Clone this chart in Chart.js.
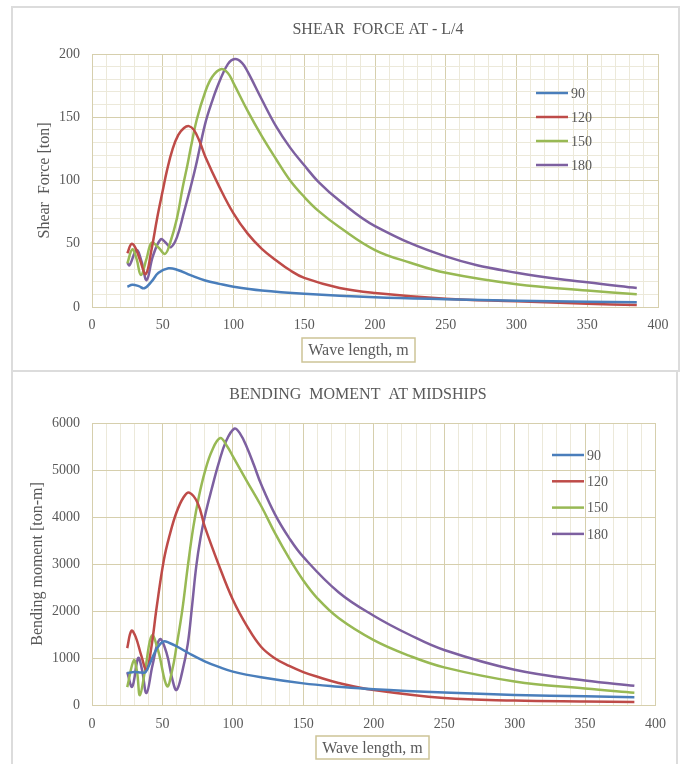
<!DOCTYPE html>
<html>
<head>
<meta charset="utf-8">
<script src="https://cdn.jsdelivr.net/npm/chart.js@4.4.1/dist/chart.umd.min.js"></script>
<style>
  body { margin: 0; background: #fff; }
  .frame { position: absolute; border: 2px solid #dcdcdc; box-sizing: border-box; }
  canvas { position: absolute; }
</style>
</head>
<body>
<div class="frame" style="left:11px; top:6px; width:669px; height:366px;"></div>
<div class="frame" style="left:11px; top:370px; width:667px; height:400px;"></div>
<div style="position:absolute; left:12px; top:7px; width:667px; height:364px;"><canvas id="shearChart"></canvas></div>
<div style="position:absolute; left:12px; top:371px; width:665px; height:393px;"><canvas id="momentChart"></canvas></div>
<script>
// series names (ship speed / heading cases)
const seriesNames = ['90', '120', '150', '180'];
const seriesColors = ['#4a7ebb', '#be4b48', '#98b954', '#7d60a0'];

// Shear force at L/4 [ton] vs wave length [m]
const sf90X = [25, 28.5, 33, 37, 42, 47, 54, 60, 70, 80, 90, 100, 120, 150, 200, 250, 300, 350, 385];
const sf90Y = [16, 17.5, 16.5, 14.8, 20, 27, 30.6, 29.5, 25, 21, 18.3, 16, 13, 10.5, 7.8, 6.2, 5, 4.2, 3.8];

const sf120X = [25, 28, 31, 34, 38, 42, 46, 50, 53, 57, 61, 65, 68.5, 72, 76, 80, 90, 100, 110, 120, 130, 140, 150, 175, 200, 250, 300, 350, 385];
const sf120Y = [42.5, 50, 46, 37, 26, 45, 70, 92, 108, 125, 136, 141.5, 143, 140, 131, 119, 95, 74, 58, 46, 37, 29, 23, 15, 11, 6.5, 4.5, 2.5, 1.5];

const sf150X = [25, 28.5, 31.5, 34.6, 38.5, 42.2, 47, 51.6, 55, 60, 64, 67.4, 70, 74, 80, 85, 91, 96, 100, 110, 120, 130, 140, 150, 160, 175, 200, 225, 250, 300, 350, 385];
const sf150Y = [34.5, 45.6, 38, 25.3, 38, 50.8, 47, 42, 50, 70, 94, 112, 127, 148, 170, 182, 188, 185, 177, 155, 135, 117, 100, 87, 76, 63, 45, 35, 27, 18, 13, 10];

const sf180X = [25, 26.5, 31.5, 35, 38.6, 43, 48.5, 52, 55.6, 60, 65, 70, 73.5, 80, 85, 90, 96, 101, 106, 110, 120, 130, 140, 150, 160, 175, 200, 250, 300, 350, 385];
const sf180Y = [35, 33, 45, 36, 21.3, 40, 53.5, 51, 47.2, 55, 75, 96, 112, 145, 163, 178, 192, 196, 193, 186, 164, 143, 126, 112, 99, 84, 64, 40, 27, 19.5, 15];

// Bending moment at midships [ton-m] vs wave length [m]
const bm90X = [25, 30, 35, 38, 42, 46, 50.5, 55, 60, 70, 80, 90, 100, 120, 150, 175, 200, 250, 300, 350, 385];
const bm90Y = [680, 700, 690, 700, 950, 1200, 1350, 1320, 1250, 1080, 930, 810, 710, 590, 460, 390, 335, 265, 215, 185, 165];

const bm120X = [25, 28, 31, 35, 38.7, 42, 46, 51, 55, 60, 65, 69, 75, 80, 90, 100, 110, 120, 130, 140, 150, 160, 175, 200, 250, 300, 350, 385];
const bm120Y = [1210, 1580, 1450, 1050, 745, 1200, 2100, 3085, 3600, 4100, 4420, 4520, 4300, 3800, 2980, 2240, 1680, 1240, 990, 830, 700, 600, 470, 320, 150, 95, 75, 65];

const bm150X = [25, 29.7, 32, 34, 38, 42.5, 47, 53.3, 57, 60, 64, 68, 72, 76, 80, 85, 91, 96, 100, 110, 120, 130, 140, 150, 160, 175, 200, 225, 250, 300, 350, 385];
const bm150Y = [380, 950, 700, 210, 800, 1480, 1150, 400, 750, 1250, 2000, 2950, 3800, 4450, 4950, 5400, 5680, 5500, 5290, 4760, 4240, 3650, 3120, 2650, 2270, 1850, 1380, 1050, 800, 500, 350, 260];

const bm180X = [25, 28.5, 32.8, 35.5, 38.7, 43, 48.1, 53, 57, 60, 64, 68, 71, 74, 77, 80, 85, 90, 95, 101, 105, 110, 115, 120, 130, 140, 150, 175, 200, 225, 250, 300, 350, 385];
const bm180Y = [700, 390, 1000, 750, 255, 850, 1400, 1100, 550, 320, 700, 1300, 2100, 2950, 3550, 4000, 4600, 5150, 5600, 5880, 5780, 5480, 5100, 4700, 4050, 3550, 3150, 2400, 1900, 1500, 1170, 750, 520, 410];

const MAJOR = '#d6cfad';
const MINOR = '#ece9da';
const TEXT = '#595959';
const SERIF = '"Liberation Serif", "Times New Roman", serif';

function pairs(xs, ys) {
    return xs.map((x, i) => ({ x: x, y: ys[i] }));
}

function makeSets(list) {
    return list.map((s, i) => ({
        label: seriesNames[i],
        data: pairs(s[0], s[1]),
        borderColor: seriesColors[i],
        backgroundColor: seriesColors[i],
        borderWidth: 2.5,
        pointRadius: 0,
        tension: 0.4,
        fill: false
    }));
}

// title, x-axis title box and in-plot legend like the Excel original
const decor = {
    id: 'decor',
    afterDraw(chart, args, o) {
        const ctx = chart.ctx;
        ctx.save();
        ctx.fillStyle = TEXT;
        ctx.textBaseline = 'middle';
        ctx.textAlign = 'center';
        ctx.font = '16px ' + SERIF;
        ctx.fillText(o.title, o.titleX, o.titleY);

        const b = o.box;
        ctx.strokeStyle = '#cdc497';
        ctx.lineWidth = 1.5;
        ctx.strokeRect(b[0], b[1], b[2], b[3]);
        ctx.fillText(o.xTitle, b[0] + b[2] / 2, b[1] + b[3] / 2 + 1);

        ctx.font = '14px ' + SERIF;
        ctx.textAlign = 'left';
        chart.data.datasets.forEach((ds, i) => {
            const y = o.legY + i * o.legStep;
            ctx.strokeStyle = ds.borderColor;
            ctx.lineWidth = 2.5;
            ctx.beginPath();
            ctx.moveTo(o.legX, y);
            ctx.lineTo(o.legX + 32, y);
            ctx.stroke();
            ctx.fillText(ds.label, o.legX + 35, y + 1);
        });
        ctx.restore();
    }
};

function baseOptions(cfg) {
    return {
        responsive: true,
        maintainAspectRatio: false,
        animation: false,
        layout: { padding: { top: cfg.top, right: cfg.right, bottom: 0, left: 0 } },
        plugins: {
            legend: { display: false },
            title: { display: false },
            tooltip: { enabled: false },
            decor: cfg.decor
        },
        scales: {
            x: {
                type: 'linear',
                min: 0,
                max: 400,
                afterFit: (s) => { s.height = cfg.bottom; },
                ticks: {
                    stepSize: 10,
                    autoSkip: false,
                    maxRotation: 0,
                    minRotation: 0,
                    padding: cfg.xPad,
                    color: TEXT,
                    font: { family: SERIF, size: 14 },
                    callback: (v) => (v % 50 === 0 ? v : '')
                },
                grid: {
                    drawTicks: false,
                    color: (c) => (c.tick && c.tick.value % 50 === 0 ? MAJOR : MINOR)
                },
                border: { color: MAJOR }
            },
            y: {
                min: 0,
                max: cfg.yMax,
                afterFit: (s) => { s.width = 80; },
                ticks: {
                    stepSize: cfg.yStep,
                    autoSkip: false,
                    padding: 12,
                    color: TEXT,
                    font: { family: SERIF, size: 14 },
                    callback: (v) => (v % cfg.yLabelStep === 0 ? v : '')
                },
                grid: {
                    drawTicks: false,
                    color: (c) => (c.tick && c.tick.value % cfg.yLabelStep === 0 ? MAJOR : MINOR)
                },
                border: { color: MAJOR },
                title: {
                    display: true,
                    text: cfg.yTitle,
                    color: TEXT,
                    font: { family: SERIF, size: 16 },
                    padding: { top: cfg.yTitlePad, bottom: 0 }
                }
            }
        }
    };
}

new Chart(document.getElementById('shearChart'), {
    type: 'line',
    data: {
        datasets: makeSets([[sf90X, sf90Y], [sf120X, sf120Y], [sf150X, sf150Y], [sf180X, sf180Y]])
    },
    options: baseOptions({
        top: 47, right: 21, bottom: 64, xPad: 10,
        yMax: 200, yStep: 10, yLabelStep: 50,
        yTitle: 'Shear  Force [ton]', yTitlePad: 23,
        decor: {
            title: 'SHEAR  FORCE AT - L/4', titleX: 366, titleY: 23,
            xTitle: 'Wave length, m', box: [290, 331, 113, 24],
            legX: 524, legY: 86, legStep: 24
        }
    }),
    plugins: [decor]
});

new Chart(document.getElementById('momentChart'), {
    type: 'line',
    data: {
        datasets: makeSets([[bm90X, bm90Y], [bm120X, bm120Y], [bm150X, bm150Y], [bm180X, bm180Y]])
    },
    options: baseOptions({
        top: 52, right: 20, bottom: 59, xPad: 11,
        yMax: 6000, yStep: 1000, yLabelStep: 1000,
        yTitle: 'Bending moment [ton-m]', yTitlePad: 16,
        decor: {
            title: 'BENDING  MOMENT  AT MIDSHIPS', titleX: 346, titleY: 24,
            xTitle: 'Wave length, m', box: [304, 365, 113, 23],
            legX: 540, legY: 84, legStep: 26.3
        }
    }),
    plugins: [decor]
});
</script>
</body>
</html>
